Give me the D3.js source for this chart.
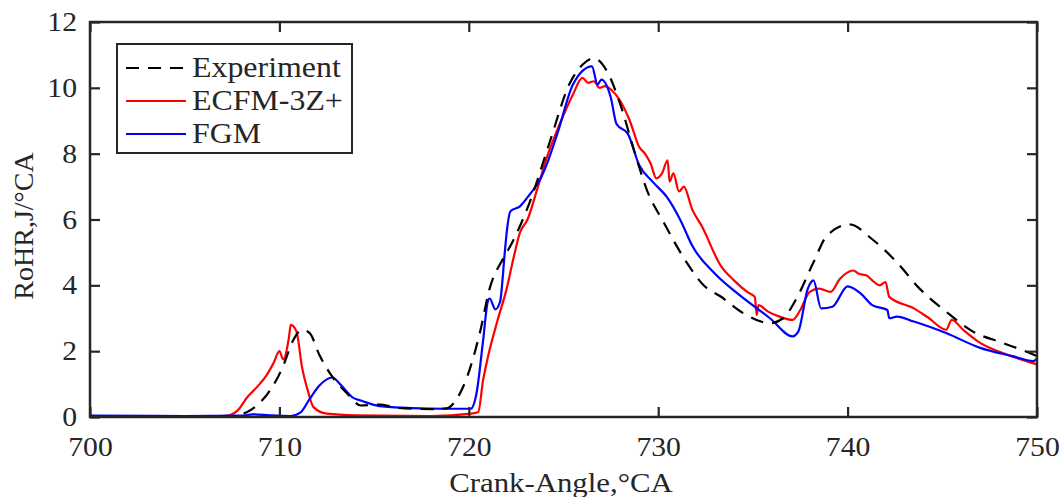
<!DOCTYPE html>
<html>
<head>
<meta charset="utf-8">
<script src="https://cdn.jsdelivr.net/npm/d3@7"></script>
<style>
  html, body { margin: 0; padding: 0; background: #fff; }
  svg { display: block; }
  text { font-family: "Liberation Serif", "Times New Roman", serif; fill: #262626; }
</style>
</head>
<body>
<svg id="chart" width="1062" height="497"></svg>
<script>
// ---- Data ----
const xTicks = [700, 710, 720, 730, 740, 750];
const yTicks = [0, 2, 4, 6, 8, 10, 12];
const seriesNames = ["Experiment", "ECFM-3Z+", "FGM"];

const expX = [700, 703, 706, 707.4, 708.3, 709.0, 709.5, 710.2, 710.7, 711.2, 711.6, 712.1, 712.7, 713.6, 714.3, 715.3, 716, 717, 718, 718.8, 719.4, 719.9, 720.6, 721.1, 721.8, 722.2, 723.2, 724.3, 725.3, 726.0, 726.6, 727.3, 728.0, 728.7, 729.4, 730.3, 731.5, 732.4, 733.3, 734.5, 735.9, 736.6, 737.3, 738.2, 738.9, 740.1, 741.3, 742.6, 743.8, 745.2, 746.6, 748.2, 749.8, 750];
const expY = [0, 0, 0, 0.02, 0.15, 0.45, 0.8, 1.55, 2.3, 2.65, 2.55, 1.9, 1.3, 0.7, 0.35, 0.38, 0.3, 0.25, 0.24, 0.26, 0.58, 1.2, 2.6, 3.9, 4.8, 5.2, 6.5, 8.4, 10.1, 10.7, 10.9, 10.5, 9.5, 8.15, 6.9, 5.9, 4.7, 4.0, 3.66, 3.15, 2.85, 3.0, 3.6, 4.7, 5.5, 5.85, 5.4, 4.7, 3.9, 3.2, 2.6, 2.25, 1.9, 1.85];

const ecfmX = [700, 705, 707, 707.4, 707.8, 708.3, 708.8, 709.3, 709.7, 710.0, 710.2, 710.5, 710.6, 710.9, 711.2, 711.5, 711.8, 712.5, 714, 718, 720.1, 720.5, 720.75, 721, 721.5, 722, 722.35, 722.7, 723.1, 723.6, 724.1, 724.8, 725.5, 726.0, 726.3, 726.6, 726.9, 727.2, 727.5, 728, 728.5, 729, 729.3, 729.6, 729.9, 730.2, 730.5, 730.6, 730.8, 731.1, 731.35, 731.8, 732.3, 733.3, 734.0, 734.7, 735.1, 735.2, 735.3, 735.8, 736.4, 737.1, 737.5, 738.0, 738.5, 739.1, 739.6, 740.3, 740.6, 741.0, 741.3, 741.7, 742.0, 742.2, 743.5, 744.3, 745.2, 745.5, 746.1, 747, 748.4, 750];
const ecfmY = [0.02, 0.02, 0.03, 0.06, 0.2, 0.6, 0.9, 1.25, 1.65, 2.0, 1.75, 2.4, 2.8, 2.6, 1.5, 0.8, 0.3, 0.1, 0.05, 0.03, 0.1, 0.15, 1.1, 1.8, 2.9, 3.9, 4.8, 5.6, 6.0, 6.9, 7.85, 8.9, 9.8, 10.3, 10.15, 10.2, 10.0, 10.05, 9.95, 9.6, 9.0, 8.2, 8.0, 7.7, 7.25, 7.4, 7.8, 7.15, 7.4, 6.85, 7.0, 6.3, 5.8, 4.6, 4.15, 3.8, 3.65, 3.1, 3.4, 3.2, 3.05, 2.95, 3.25, 3.8, 3.9, 3.8, 4.2, 4.45, 4.35, 4.3, 4.15, 4.0, 4.1, 3.65, 3.3, 3.0, 2.65, 2.95, 2.65, 2.25, 1.9, 1.6];

const fgmX = [700, 705, 708, 708.6, 709.5, 710.6, 711.1, 711.6, 712.1, 712.8, 713.2, 713.9, 714.3, 715.3, 717, 718.8, 720.1, 720.4, 720.75, 721.0, 721.1, 721.4, 721.65, 721.9, 722.0, 722.2, 722.7, 723.2, 723.8, 724.1, 724.7, 725.5, 726.5, 726.8, 727.0, 727.5, 727.8, 728.4, 729.0, 729.7, 730.5, 731.2, 731.8, 733.0, 734.3, 735.9, 737.1, 737.4, 737.9, 738.2, 738.6, 739.2, 740.0, 740.7, 741.3, 742.1, 742.2, 742.6, 743.5, 745.2, 747, 748.7, 749.8, 750];
const fgmY = [0.04, 0.03, 0.04, 0.08, 0.05, 0.03, 0.13, 0.55, 0.95, 1.2, 1.0, 0.58, 0.5, 0.33, 0.27, 0.25, 0.25, 0.7, 2.3, 3.5, 3.6, 3.27, 3.5, 5.0, 5.6, 6.25, 6.4, 6.75, 7.25, 7.65, 8.65, 10.1, 10.65, 10.1, 10.25, 9.7, 8.9, 8.6, 7.65, 7.15, 6.65, 5.95, 5.2, 4.35, 3.7, 3.0, 2.45, 2.6, 3.9, 4.15, 3.3, 3.35, 3.97, 3.75, 3.4, 3.25, 3.0, 3.05, 2.9, 2.55, 2.1, 1.85, 1.7, 1.78];

// ---- Layout ----
const svg = d3.select("#chart");
const L = 90, R = 1037, T = 22, B = 417;
const x = d3.scaleLinear().domain([700, 750]).range([L, R]);
const y = d3.scaleLinear().domain([0, 12]).range([B, T]);
const axisColor = "#262626";
const tickLen = 10;
const sx = 1.1; // horizontal text stretch seen in the reference

svg.append("defs").append("clipPath").attr("id", "clip")
  .append("rect").attr("x", L).attr("y", T).attr("width", R - L).attr("height", B - T);

const line = d3.line().x(d => x(d[0])).y(d => y(d[1])).curve(d3.curveMonotoneX);
const zip = (a, b) => a.map((v, i) => [v, b[i]]);

const g = svg.append("g").attr("clip-path", "url(#clip)");
const series = [
  { data: zip(ecfmX, ecfmY), color: "#ff0000", dash: null },
  { data: zip(fgmX, fgmY), color: "#0000ff", dash: null },
  { data: zip(expX, expY), color: "#000000", dash: "13,9" }
];
series.forEach(s => {
  g.append("path").datum(s.data)
    .attr("d", line)
    .attr("fill", "none")
    .attr("stroke", s.color)
    .attr("stroke-width", 2.2)
    .attr("stroke-linejoin", "round")
    .attr("stroke-dasharray", s.dash);
});

// ---- Axes (MATLAB box style, inward ticks) ----
function styleAxis(sel, showLabels) {
  sel.select(".domain").remove();
  sel.selectAll(".tick line").attr("stroke", axisColor).attr("stroke-width", 2.2);
  sel.selectAll(".tick text").attr("font-size", 27).attr("fill", axisColor)
    .style("font-family", '"Liberation Serif", serif')
    .each(function() {
      const t = d3.select(this);
      const tx = +t.attr("x") || 0;
      t.attr("x", tx / sx).attr("transform", `scale(${sx},1)`);
    });
  if (!showLabels) sel.selectAll(".tick text").remove();
}
svg.append("g").attr("transform", `translate(0,${B})`)
  .call(d3.axisBottom(x).tickValues(xTicks).tickSize(-tickLen).tickPadding(20).tickFormat(d3.format("d")))
  .call(s => styleAxis(s, true));
svg.append("g").attr("transform", `translate(0,${T})`)
  .call(d3.axisTop(x).tickValues(xTicks).tickSize(-tickLen))
  .call(s => styleAxis(s, false));
svg.append("g").attr("transform", `translate(${L},0)`)
  .call(d3.axisLeft(y).tickValues(yTicks).tickSize(-tickLen).tickPadding(13).tickFormat(d3.format("d")))
  .call(s => styleAxis(s, true));
svg.append("g").attr("transform", `translate(${R},0)`)
  .call(d3.axisRight(y).tickValues(yTicks).tickSize(-tickLen))
  .call(s => styleAxis(s, false));

svg.append("rect").attr("x", L).attr("y", T).attr("width", R - L).attr("height", B - T)
  .attr("fill", "none").attr("stroke", axisColor).attr("stroke-width", 2.5);

// ---- Axis labels ----
svg.append("text").attr("transform", `translate(${561},492) scale(${sx},1)`)
  .attr("text-anchor", "middle").attr("font-size", 28).text("Crank-Angle,°CA");
svg.append("text").attr("transform", "translate(33,226) rotate(-90)")
  .attr("text-anchor", "middle").attr("font-size", 28).text("RoHR,J/°CA");

// ---- Legend ----
const lg = svg.append("g");
lg.append("rect").attr("x", 117).attr("y", 44).attr("width", 235).attr("height", 109)
  .attr("fill", "#fff").attr("stroke", axisColor).attr("stroke-width", 2);
const legendStyles = [
  { color: "#000000", dash: "13,9" },
  { color: "#ff0000", dash: null },
  { color: "#0000ff", dash: null }
];
seriesNames.forEach((name, i) => {
  const yy = 68 + i * 33;
  lg.append("line").attr("x1", 126).attr("x2", 186).attr("y1", yy).attr("y2", yy)
    .attr("stroke", legendStyles[i].color).attr("stroke-width", 2.2)
    .attr("stroke-dasharray", legendStyles[i].dash);
  lg.append("text").attr("transform", `translate(192,${yy + 9}) scale(${sx},1)`)
    .attr("font-size", 29).text(name);
});
</script>
</body>
</html>
